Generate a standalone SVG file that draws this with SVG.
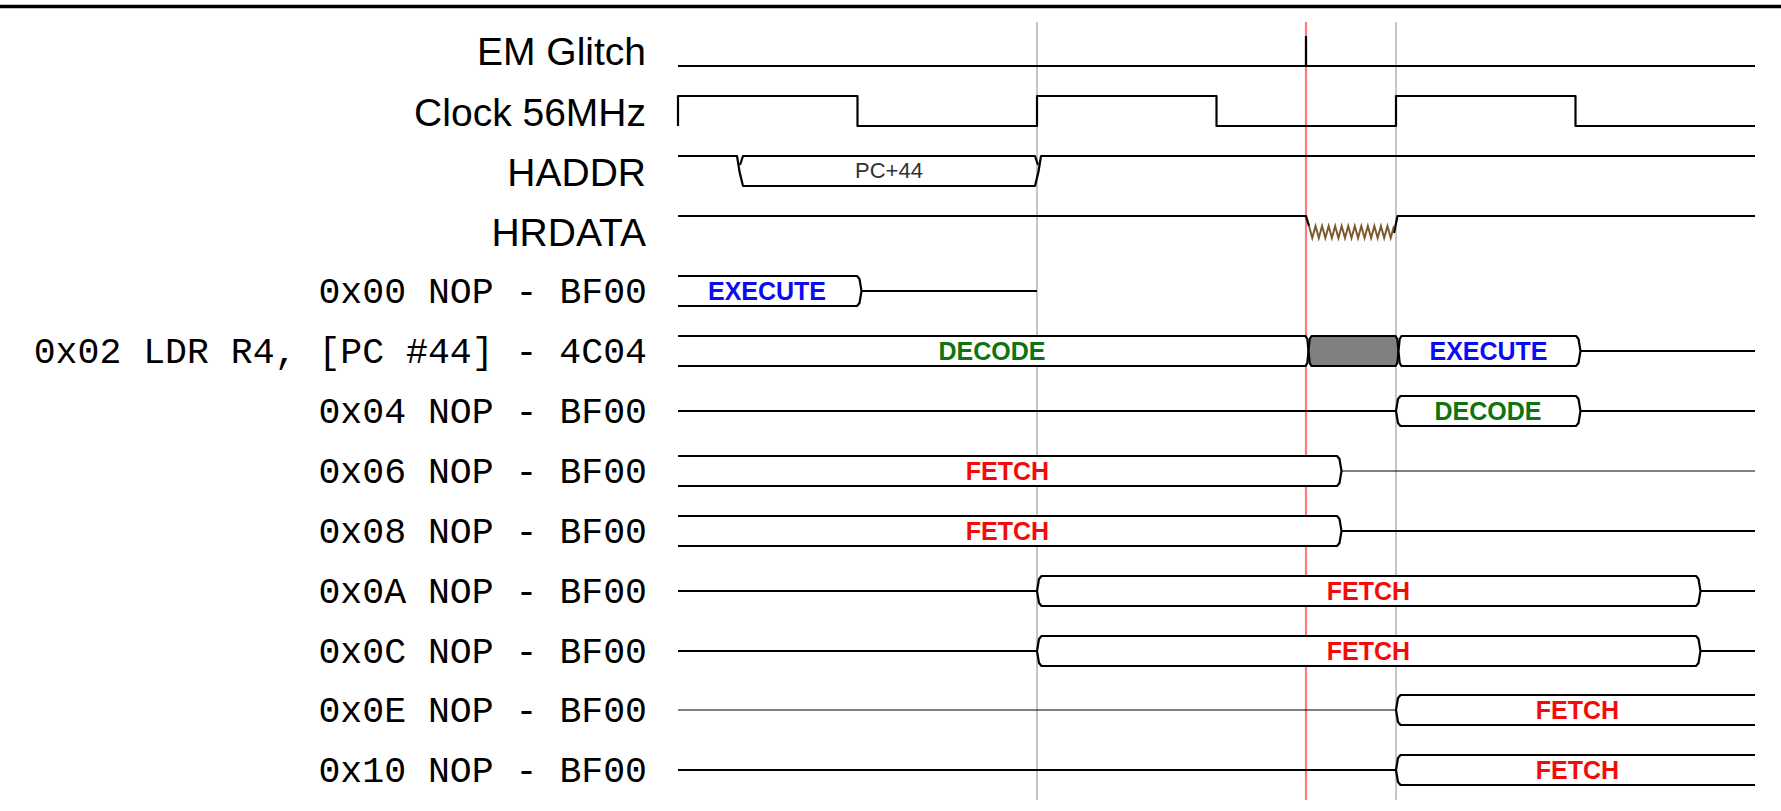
<svg xmlns="http://www.w3.org/2000/svg" width="1781" height="811" viewBox="0 0 1781 811">
<style>
.bg{fill:#ffffff}
.sig{fill:none;stroke:#000;stroke-width:2.2;stroke-linejoin:round}
.thin{fill:none;stroke:#000;stroke-width:1.2}
.box{fill:#ffffff;stroke:#000;stroke-width:2.2;stroke-linejoin:round}
.gbox{fill:#808080;stroke:#000;stroke-width:2.2;stroke-linejoin:round}
.lbl{font-family:"Liberation Sans",Arial,sans-serif;font-size:39px;fill:#000;text-anchor:end}
.mono{font-family:"Liberation Mono","Courier New",monospace;font-size:36.5px;fill:#000;text-anchor:end}
.st{font-family:"Liberation Sans",Arial,sans-serif;font-weight:bold;font-size:25px;text-anchor:middle}
.ex{fill:#0a0af5}
.de{fill:#0f730f}
.fe{fill:#f50a0a}
.val{font-family:"Liberation Sans",Arial,sans-serif;font-size:22px;fill:#333;text-anchor:middle}
.guide{stroke:#b8b8b8;stroke-width:1.6}
.glitch{stroke:#ff7a7a;stroke-width:2.2}
.noise{fill:none;stroke:#7d5a2e;stroke-width:2;stroke-linejoin:miter}
</style>
<rect class="bg" x="0" y="0" width="1781" height="811"/>
<line x1="0" y1="6.5" x2="1781" y2="6.5" stroke="#000" stroke-width="3.6"/>

<g id="connectors">
  <line class="guide" x1="1037" y1="22" x2="1037" y2="800"/>
  <line class="guide" x1="1396" y1="22" x2="1396" y2="800"/>
  <line class="glitch" x1="1306" y1="22" x2="1306" y2="800"/>
</g>

<g id="em-glitch">
  <text class="lbl" x="646" y="65">EM Glitch</text>
  <path class="sig" d="M678,66 H1755 M1306,66 V36"/>
</g>

<g id="clock">
  <text class="lbl" x="646" y="126">Clock 56MHz</text>
  <path class="sig" d="M678,126 V96 H857.5 V126 H1037 V96 H1216.5 V126 H1396 V96 H1575.5 V126 H1755"/>
</g>

<g id="haddr">
  <text class="lbl" x="646" y="186">HADDR</text>
  <path class="sig" d="M678,156 H737 Q739,172 743,186 H1035 Q1039,172 1041,156 H1755"/>
  <path class="sig" d="M740,165 L743,156 H1035 L1038,165"/>
  <text class="val" x="889" y="178">PC+44</text>
</g>

<g id="hrdata">
  <text class="lbl" x="646" y="246">HRDATA</text>
  <path class="sig" d="M678,216 H1306 L1309,226 M1394,233 L1397.5,216 H1755"/>
  <polyline class="noise" points="1309,226 1312.27,238 1315.54,226 1318.81,238 1322.08,226 1325.35,238 1328.62,226 1331.88,238 1335.15,226 1338.42,238 1341.69,226 1344.96,238 1348.23,226 1351.5,238 1354.77,226 1358.04,238 1361.31,226 1364.58,238 1367.85,226 1371.12,238 1374.38,226 1377.65,238 1380.92,226 1384.19,238 1387.46,226 1390.73,238 1394,226"/>
</g>

<g id="i00">
  <text class="mono" x="647" y="302.5">0x00 NOP - BF00</text>
  <path class="box" d="M678,276 H857 L859.5,279 L861.5,291 L859.5,303 L857,306 H678"/>
  <path class="sig" d="M861.5,291 H1037"/>
  <text class="st ex" x="767" y="300">EXECUTE</text>
</g>

<g id="i02">
  <text class="mono" x="647" y="362.5">0x02 LDR R4, [PC #44] - 4C04</text>
  <path class="box" d="M678,336 H1305.5 L1307.3,339 L1308.5,351 L1307.3,363 L1305.5,366 H678"/>
  <path class="gbox" d="M1311.5,336 H1395.5 L1397.3,339 L1398.5,351 L1397.3,363 L1395.5,366 H1311.5 L1309.7,363 L1308.5,351 L1309.7,339 Z"/>
  <path class="box" d="M1401.5,336 H1576 L1578.5,339 L1580.5,351 L1578.5,363 L1576,366 H1401.5 L1399.7,363 L1398.5,351 L1399.7,339 Z"/>
  <path class="sig" d="M1580.5,351 H1755"/>
  <text class="st de" x="992" y="360">DECODE</text>
  <text class="st ex" x="1488.5" y="360">EXECUTE</text>
</g>

<g id="i04">
  <text class="mono" x="647" y="422.5">0x04 NOP - BF00</text>
  <path class="sig" d="M678,411 H1396 M1580.5,411 H1755"/>
  <path class="box" d="M1400.5,396 H1576 L1578.5,399 L1580.5,411 L1578.5,423 L1576,426 H1400.5 L1398,423 L1396,411 L1398,399 Z"/>
  <text class="st de" x="1488" y="420">DECODE</text>
</g>

<g id="i06">
  <text class="mono" x="647" y="482.5">0x06 NOP - BF00</text>
  <path class="box" d="M678,456 H1337 L1339.5,459 L1341.5,471 L1339.5,483 L1337,486 H678"/>
  <path class="thin" d="M1341.5,471 H1755"/>
  <text class="st fe" x="1007.5" y="480">FETCH</text>
</g>

<g id="i08">
  <text class="mono" x="647" y="542.5">0x08 NOP - BF00</text>
  <path class="box" d="M678,516 H1337 L1339.5,519 L1341.5,531 L1339.5,543 L1337,546 H678"/>
  <path class="sig" d="M1341.5,531 H1755"/>
  <text class="st fe" x="1007.5" y="540">FETCH</text>
</g>

<g id="i0A">
  <text class="mono" x="647" y="602.5">0x0A NOP - BF00</text>
  <path class="sig" d="M678,591 H1037 M1700.5,591 H1755"/>
  <path class="box" d="M1041.5,576 H1696 L1698.5,579 L1700.5,591 L1698.5,603 L1696,606 H1041.5 L1039,603 L1037,591 L1039,579 Z"/>
  <text class="st fe" x="1368.5" y="600">FETCH</text>
</g>

<g id="i0C">
  <text class="mono" x="647" y="662.5">0x0C NOP - BF00</text>
  <path class="sig" d="M678,651 H1037 M1700.5,651 H1755"/>
  <path class="box" d="M1041.5,636 H1696 L1698.5,639 L1700.5,651 L1698.5,663 L1696,666 H1041.5 L1039,663 L1037,651 L1039,639 Z"/>
  <text class="st fe" x="1368.5" y="660">FETCH</text>
</g>

<g id="i0E">
  <text class="mono" x="647" y="721.5">0x0E NOP - BF00</text>
  <path class="thin" d="M678,710 H1396"/>
  <path class="sig" d="M1755,695 H1400.5 L1398,698 L1396,710 L1398,722 L1400.5,725 H1755"/>
  <text class="st fe" x="1577.5" y="719">FETCH</text>
</g>

<g id="i10">
  <text class="mono" x="647" y="781.5">0x10 NOP - BF00</text>
  <path class="sig" d="M678,770 H1396"/>
  <path class="sig" d="M1755,755 H1400.5 L1398,758 L1396,770 L1398,782 L1400.5,785 H1755"/>
  <text class="st fe" x="1577.5" y="779">FETCH</text>
</g>
</svg>
